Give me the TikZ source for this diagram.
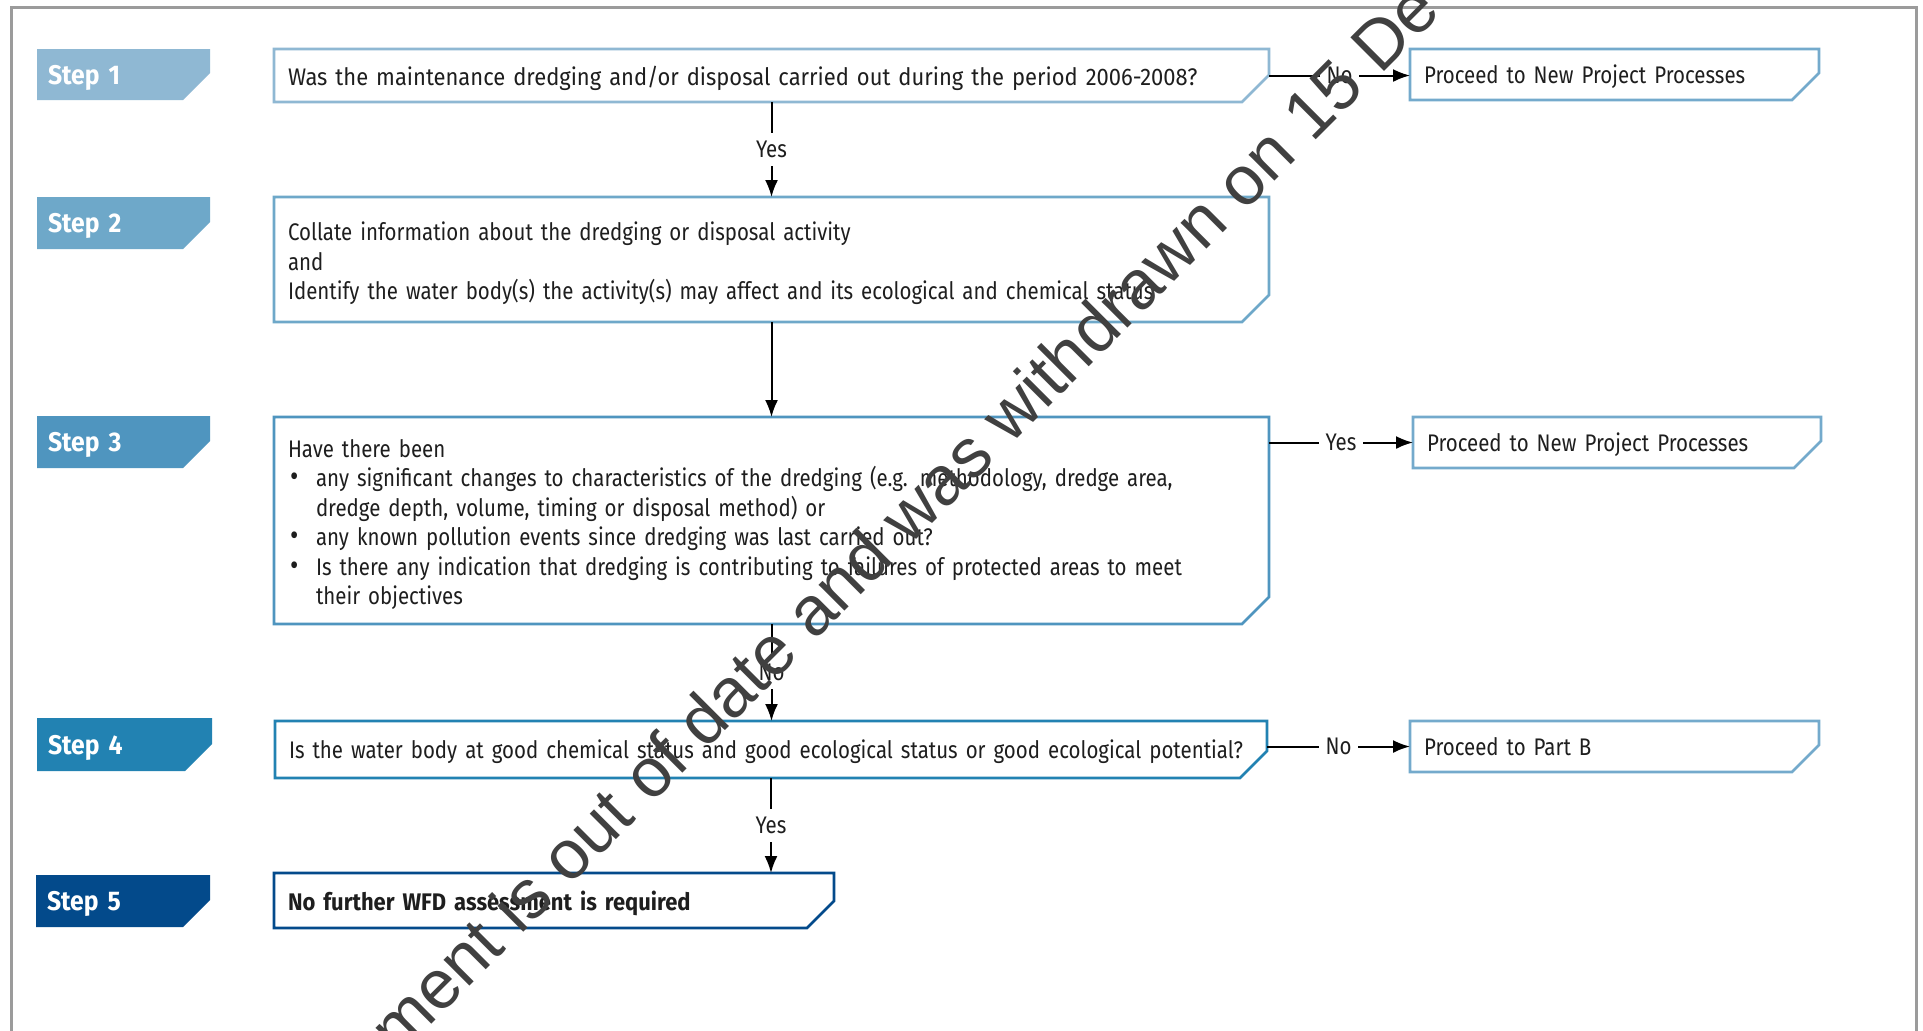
\documentclass[tikz,border=0pt]{standalone}
\usepackage{fontspec}
\setmainfont[FakeStretch=0.853, WordSpace=0.9]{Fira Sans}
\newfontfamily\widefont[FakeStretch=0.915, WordSpace=0.9]{Fira Sans}
\newfontfamily\wmfont{Liberation Sans}
\usetikzlibrary{arrows.meta}
\definecolor{cA}{RGB}{143,184,211}
\definecolor{cB}{RGB}{110,168,201}
\definecolor{cC}{RGB}{79,149,191}
\definecolor{cD}{RGB}{34,130,178}
\definecolor{cE}{RGB}{3,74,139}
\definecolor{cR}{RGB}{116,170,204}
\definecolor{frame}{RGB}{155,155,155}
\definecolor{wmgray}{RGB}{64,64,64}
\definecolor{ink}{RGB}{30,30,30}
\pgfdeclarelayer{bg}
\pgfsetlayers{bg,main}
\newcommand\chamfbox[2]{%
  \path[#2] (#1.north west) -- (#1.north east) -- ([yshift=13.5pt]#1.south east)
    -- ([xshift=-13.5pt]#1.south east) -- (#1.south west) -- cycle;}
\newcommand\bul{\makebox[14pt][l]{\hspace{1pt}{\fontsize{15}{10}\selectfont\textbullet}}}
\begin{document}
\begin{tikzpicture}[x=0.5pt,y=-0.5pt,
  box/.style={rectangle, draw=none, inner xsep=7pt, inner ysep=0pt, outer sep=0pt,
    align=left, text=ink, text depth=0pt, font=\fontsize{12}{14.7}\selectfont},
  txtm/.style={rectangle, draw=none, inner sep=0pt, outer sep=0pt,
    align=left, text=ink, font=\fontsize{12}{14.7}\selectfont},
  steptab/.style={rectangle, draw=none, inner xsep=5.5pt, inner ysep=0pt, outer sep=0pt,
    align=left, text=white, text depth=-0.8pt, font=\widefont\bfseries\fontsize{13.5}{14}\selectfont},
  lbl/.style={fill=white, inner xsep=3.5pt, inner ysep=4pt, text=ink, font=\fontsize{12}{13}\selectfont},
  arr/.style={line width=1pt, draw=black, -{Latex[length=8.5pt,width=6.5pt]}},
  outl/.style={draw=#1, line width=1.3pt},
  wm/.style={font=\wmfont\fontsize{34.6}{36}\selectfont, text=wmgray, inner sep=0pt}
]
\useasboundingbox (0,0) rectangle (1923,1030);
\clip (0,0) rectangle (1923,1030);
\begin{pgfonlayer}{bg}
\fill[white] (0,0) rectangle (1923,1030);
\end{pgfonlayer}
\draw[frame, line width=1.5pt] (11,1045) -- (11,7) -- (1916,7) -- (1916,1045);

% step tabs
\node[steptab, text width=75.5pt, minimum height=25.5pt] (s1) at (123.5,74.5) {Step 1};
\node[steptab, text width=75.5pt, minimum height=26pt] (s2) at (123.5,223) {Step 2};
\node[steptab, text width=75.5pt, minimum height=26pt] (s3) at (123.5,442) {Step 3};
\node[steptab, text width=76.5pt, minimum height=26.5pt] (s4) at (124.5,744.5) {Step 4};
\node[steptab, text width=76pt, minimum height=26pt] (s5) at (123,901) {Step 5};
\begin{pgfonlayer}{bg}
\chamfbox{s1}{fill=cA}
\chamfbox{s2}{fill=cB}
\chamfbox{s3}{fill=cC}
\chamfbox{s4}{fill=cD}
\chamfbox{s5}{fill=cE}
\end{pgfonlayer}

% main boxes
\node[box, text width=483.5pt, minimum height=26.5pt] (b1) at (771.5,75.5)
  {\widefont Was the maintenance dredging and/or disposal carried out during the period 2006-2008?};
\node[box, minimum width=497.5pt, minimum height=62.5pt] (b2) at (771.5,259.5) {};
\node[txtm, anchor=west, text width=483.5pt] (t2) at ([xshift=7pt,yshift=-2pt]b2.west)
  {Collate information about the dredging or disposal activity\\
   and\\
   Identify the water body(s) the activity(s) may affect and its ecological and chemical status};
\node[box, minimum width=497.5pt, minimum height=103.5pt] (b3) at (771.5,520.5) {};
\node[txtm, anchor=west, text width=483.5pt] (t3) at ([xshift=7pt,yshift=-2pt]b3.west)
  {Have there been\\
   \bul any significant changes to characteristics of the dredging (e.g. methodology, dredge area,\\
   \hspace*{14pt}dredge depth, volume, timing or disposal method) or\\
   \bul any known pollution events since dredging was last carried out?\\
   \bul Is there any indication that dredging is contributing to failures of protected areas to meet\\
   \hspace*{14pt}their objectives};
\node[box, text width=482pt, minimum height=28.5pt] (b4) at (771,749.5)
  {Is the water body at good chemical status and good ecological status or good ecological potential?};
\node[box, text width=266pt, minimum height=27.5pt] (b5) at (554,900.5)
  {\widefont\bfseries No further WFD assessment is required};
\node[box, text width=190.5pt, minimum height=25.5pt] (r1) at (1614.5,74.5)
  {Proceed to New Project Processes};
\node[box, text width=190pt, minimum height=25.5pt] (r2) at (1617,442.5)
  {Proceed to New Project Processes};
\node[box, text width=190.5pt, minimum height=25.5pt] (r3) at (1614.5,746.5)
  {Proceed to Part B};

\chamfbox{b1}{outl=cA}
\chamfbox{b2}{outl=cB}
\chamfbox{b3}{outl=cC}
\chamfbox{b4}{outl=cD}
\chamfbox{b5}{outl=cE}
\chamfbox{r1}{outl=cR}
\chamfbox{r2}{outl=cR}
\chamfbox{r3}{outl=cR}

% connectors
\draw[arr] (b1.east) -- node[lbl] (l1) {No} (b1.east -| r1.west);
\draw[arr] (b1.south) -- node[lbl] (l2) {Yes} (b2.north);
\draw[arr] (b2.south) -- (b3.north);
\draw[arr] (b3.east |- r2.west) -- node[lbl] (l3) {Yes} (r2.west);
\draw[arr] (b3.south) -- node[lbl] (l4) {No} (b3.south |- b4.north);
\draw[arr] (b4.east |- r3.west) -- node[lbl] (l5) {No} (r3.west);
\draw[arr] (b4.south) -- node[lbl] (l6) {Yes} (b4.south |- b5.north);

% watermark
\node[wm, rotate=45, anchor=base west] (wmk) at (398,1058)
  {ment is out of date and was withdrawn on 15 De};
\end{tikzpicture}
\end{document}
